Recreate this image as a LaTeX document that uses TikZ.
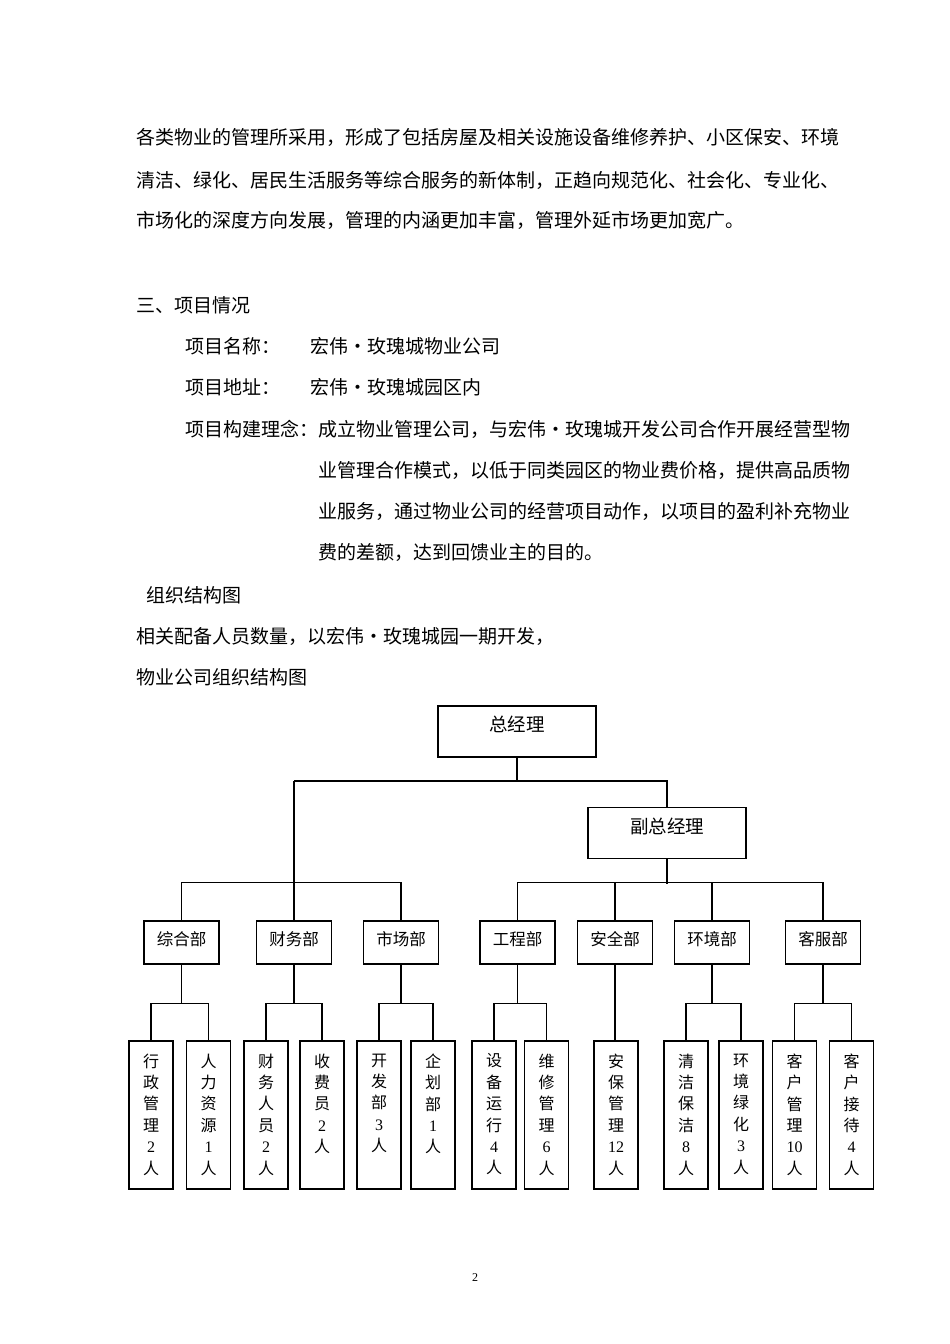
\documentclass[tikz,border=0pt]{standalone}
\usepackage{fontspec}
\setmainfont{Noto Sans CJK SC}
\newfontfamily\lat{Liberation Serif}
\begin{document}
\begin{tikzpicture}[x=1pt,y=-1pt,
  box/.style={draw,line width=1.1pt,inner sep=0pt},
  topbox/.style={box,minimum width=158pt,minimum height=51pt,text height=16pt,text depth=16pt,font=\fontsize{18.5}{20}\selectfont},
  dept/.style={box,minimum width=75pt,minimum height=43pt,text height=15pt,text depth=10pt,font=\fontsize{16.5}{18}\selectfont},
  leaf/.style={box,minimum width=44pt,minimum height=148pt},
  leaftext/.style={anchor=north,inner sep=0pt,align=center,yshift=-13pt,font=\fontsize{16}{21.4}\selectfont},
  body/.style={anchor=west,inner sep=0pt,font=\fontsize{19}{22}\selectfont},
  conn/.style={line width=1.1pt}]
\useasboundingbox (0,0) rectangle (950,1344);

% body text
\node[body] (t1) at (136,137) {各类物业的管理所采用，形成了包括房屋及相关设施设备维修养护、小区保安、环境};
\node[body] (t2) at (136,180) {清洁、绿化、居民生活服务等综合服务的新体制，正趋向规范化、社会化、专业化、};
\node[body] (t3) at (136,220) {市场化的深度方向发展，管理的内涵更加丰富，管理外延市场更加宽广。};
\node[body] (t4) at (136,305) {三、项目情况};
\node[body] (t5) at (185,346) {项目名称：};
\node[body] (t5b) at (310,346) {宏伟·玫瑰城物业公司};
\node[body] (t6) at (185,387) {项目地址：};
\node[body] (t6b) at (310,387) {宏伟·玫瑰城园区内};
\node[body] (t7) at (185,429) {项目构建理念：成立物业管理公司，与宏伟·玫瑰城开发公司合作开展经营型物};
\node[body] (t8) at (318,470) {业管理合作模式，以低于同类园区的物业费价格，提供高品质物};
\node[body] (t9) at (318,511) {业服务，通过物业公司的经营项目动作，以项目的盈利补充物业};
\node[body] (t10) at (318,552) {费的差额，达到回馈业主的目的。};
\node[body] (t11) at (146,595) {组织结构图};
\node[body] (t12) at (136,636) {相关配备人员数量，以宏伟·玫瑰城园一期开发，};
\node[body] (t13) at (136,677) {物业公司组织结构图};
\node[font=\lat\fontsize{12}{14}\selectfont] (pg) at (475,1278) {2};

% top boxes
\node[topbox] (gm) at (517,731.5) {总经理};
\node[topbox] (vgm) at (667,833) {副总经理};

% departments
\node[dept] (zh) at (181.5,942.5) {综合部};
\node[dept] (cw) at (294,942.5) {财务部};
\node[dept] (sc) at (401,942.5) {市场部};
\node[dept] (gc) at (517.5,942.5) {工程部};
\node[dept] (aq) at (615,942.5) {安全部};
\node[dept] (hj) at (712,942.5) {环境部};
\node[dept] (kf) at (823,942.5) {客服部};

% leaves
\node[leaf] (l1) at (151,1115) {};
\node[leaf] (l2) at (208.5,1115) {};
\node[leaf] (l3) at (266,1115) {};
\node[leaf] (l4) at (322,1115) {};
\node[leaf] (l5) at (379,1115) {};
\node[leaf] (l6) at (433,1115) {};
\node[leaf] (l7) at (494,1115) {};
\node[leaf] (l8) at (546.5,1115) {};
\node[leaf] (l9) at (616,1115) {};
\node[leaf] (l10) at (686,1115) {};
\node[leaf] (l11) at (741,1115) {};
\node[leaf] (l12) at (794.5,1115) {};
\node[leaf] (l13) at (851.5,1115) {};

\node[leaftext] (x1) at (l1.north) {行\\政\\管\\理\\{\lat 2}\\人};
\node[leaftext] (x2) at (l2.north) {人\\力\\资\\源\\{\lat 1}\\人};
\node[leaftext] (x3) at (l3.north) {财\\务\\人\\员\\{\lat 2}\\人};
\node[leaftext] (x4) at (l4.north) {收\\费\\员\\{\lat 2}\\人};
\node[leaftext] (x5) at (l5.north) {开\\发\\部\\{\lat 3}\\人};
\node[leaftext] (x6) at (l6.north) {企\\划\\部\\{\lat 1}\\人};
\node[leaftext] (x7) at (l7.north) {设\\备\\运\\行\\{\lat 4}\\人};
\node[leaftext] (x8) at (l8.north) {维\\修\\管\\理\\{\lat 6}\\人};
\node[leaftext] (x9) at (l9.north) {安\\保\\管\\理\\{\lat 12}\\人};
\node[leaftext] (x10) at (l10.north) {清\\洁\\保\\洁\\{\lat 8}\\人};
\node[leaftext] (x11) at (l11.north) {环\\境\\绿\\化\\{\lat 3}\\人};
\node[leaftext] (x12) at (l12.north) {客\\户\\管\\理\\{\lat 10}\\人};
\node[leaftext] (x13) at (l13.north) {客\\户\\接\\待\\{\lat 4}\\人};

% connectors
\coordinate (busA) at (294,781);
\coordinate (busB) at (667,781);
\draw[conn] (gm.south) -- (gm.south |- busA);
\draw[conn] (busA) -- (busB) -- (vgm.north);
\draw[conn] (busA) -- (cw.north);
\draw[conn] (zh.north) -- ++(0,-38) -| (sc.north);
\draw[conn] (vgm.south) -- ++(0,25) coordinate (busC);
\draw[conn] (gc.north) -- ++(0,-38) -| (kf.north);
\draw[conn] (aq.north) -- ++(0,-38);
\draw[conn] (hj.north) -- ++(0,-38);

\draw[conn] (zh.south) -- ++(0,39) coordinate (j1);
\draw[conn] (l1.north) |- (j1) -| (l2.north);
\draw[conn] (cw.south) -- ++(0,39) coordinate (j2);
\draw[conn] (l3.north) |- (j2) -| (l4.north);
\draw[conn] (sc.south) -- ++(0,39) coordinate (j3);
\draw[conn] (l5.north) |- (j3) -| (l6.north);
\draw[conn] (gc.south) -- ++(0,39) coordinate (j4);
\draw[conn] (l7.north) |- (j4) -| (l8.north);
\draw[conn] (aq.south) -- (aq.south |- l9.north);
\draw[conn] (hj.south) -- ++(0,39) coordinate (j5);
\draw[conn] (l10.north) |- (j5) -| (l11.north);
\draw[conn] (kf.south) -- ++(0,39) coordinate (j6);
\draw[conn] (l12.north) |- (j6) -| (l13.north);
\end{tikzpicture}
\end{document}
